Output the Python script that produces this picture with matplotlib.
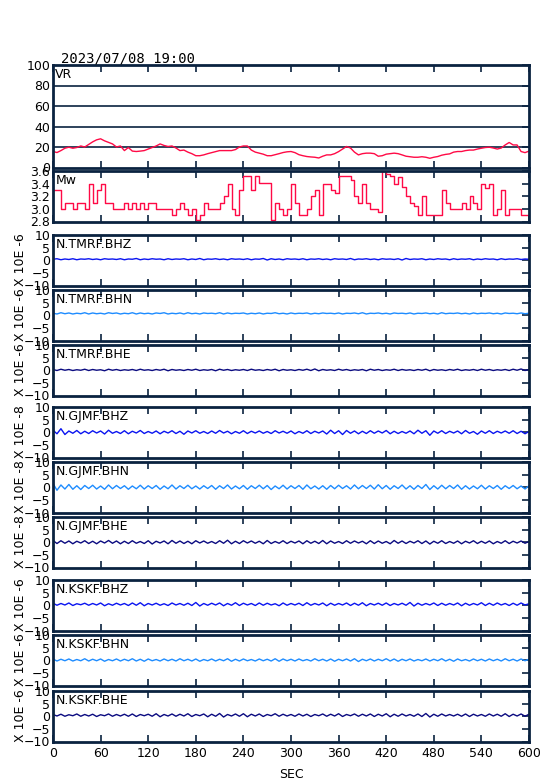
import numpy as np
import matplotlib.pyplot as plt

# --- Data ---
title = "2023/07/08 19:00"
t = np.arange(0, 601, 5)  # seconds, 5 s sampling

vr = [15.6, 14.6, 16.5, 18.8, 19.8, 18.8, 19.5, 21, 20, 22.5,
      25, 27, 28, 26, 24.5, 23, 20, 21, 16.5, 19.5,
      16, 15.6, 16, 16.5, 18, 19.5, 21, 23, 21.5, 20.5,
      21, 19, 16.5, 17, 15, 13.5, 11.5, 11.5, 12.3, 13.5,
      14.5, 15.5, 16.5, 16.5, 16.5, 16.5, 17.5, 20, 21, 21,
      17, 15, 14, 13, 11.5, 11.5, 12.5, 13.5, 14.6, 15.3,
      15.6, 14.5, 12.5, 11.5, 10.7, 10.3, 10, 9.3, 11, 12.3,
      12.3, 13.5, 15.5, 18, 20.5, 19, 15, 12.3, 13.5, 14,
      14, 13.5, 11, 11.5, 13, 13.5, 14, 13.5, 12.3, 11,
      10.5, 10, 10, 10.5, 10, 9, 10, 10.7, 12, 12.8,
      13.3, 15, 15.6, 15.6, 16.5, 17, 17, 18, 18.8, 19.5,
      19.8, 19, 18, 19, 22, 24.4, 22, 22, 15.6, 14.5,
      16]

mw = [3.3, 3.3, 3.0, 3.1, 3.1, 3.0, 3.1, 3.1, 3.0, 3.4,
      3.1, 3.3, 3.4, 3.1, 3.1, 3.0, 3.0, 3.0, 3.1, 3.0,
      3.1, 3.0, 3.1, 3.0, 3.1, 3.1, 3.0, 3.0, 3.0, 3.0,
      2.9, 3.0, 3.1, 3.0, 2.9, 3.0, 2.82, 2.9, 3.1, 3.0,
      3.0, 3.0, 3.1, 3.2, 3.4, 3.0, 2.9, 3.3, 3.52, 3.52,
      3.3, 3.52, 3.41, 3.41, 3.41, 2.82, 3.1, 3.0, 2.9, 3.0,
      3.4, 3.1, 2.9, 2.9, 3.0, 3.2, 3.3, 2.9, 3.4, 3.4,
      3.3, 3.25, 3.52, 3.52, 3.52, 3.45, 3.2, 3.1, 3.4, 3.1,
      3.0, 3.0, 2.95, 3.6, 3.55, 3.52, 3.4, 3.5, 3.35, 3.2,
      3.1, 3.05, 2.9, 3.2, 2.9, 2.9, 2.9, 2.9, 3.3, 3.1,
      3.0, 3.0, 3.0, 3.1, 3.0, 3.2, 3.1, 3.0, 3.4, 3.33,
      3.4, 2.9, 3.0, 3.3, 2.9, 3.0, 3.0, 3.0, 2.9, 2.9,
      2.9]

tmrf_bhz = [0.4, 0.6, 0.2, 0.5, 0.3, 0.6, 0.2, 0.5, 0.4, 0.6,
            0.3, 0.5, 0.2, 0.6, 0.4, 0.5, 0.3, 0.6, 0.2, 0.5,
            0.4, 0.7, 0.2, 0.5, 0.3, 0.6, 0.4, 0.5, 0.2, 0.6,
            0.3, 0.5, 0.4, 0.6, 0.2, 0.5, 0.3, 0.7, 0.2, 0.5,
            0.4, 0.6, 0.3, 0.5, 0.2, 0.6, 0.4, 0.5, 0.3, 0.6,
            0.2, 0.5, 0.4, 0.7, 0.1, 0.6, 0.3, 0.5, 0.2, 0.6,
            0.4, 0.5, 0.3, 0.6, 0.2, 0.5, 0.4, 0.6, 0.3, 0.5,
            0.2, 0.6, 0.4, 0.5, 0.3, 0.7, 0.2, 0.5, 0.4, 0.6,
            0.3, 0.5, 0.2, 0.6, 0.4, 0.5, 0.3, 0.6, 0.1, 0.7,
            0.3, 0.5, 0.4, 0.6, 0.2, 0.5, 0.3, 0.6, 0.4, 0.5,
            0.2, 0.6, 0.3, 0.5, 0.4, 0.6, 0.2, 0.5, 0.3, 0.6,
            0.4, 0.5, 0.2, 0.6, 0.3, 0.5, 0.4, 0.6, 0.3, 0.5,
            0.4]
tmrf_bhn = [0.8, 0.5, 1.0, 0.6, 0.9, 0.5, 0.8, 0.6, 1.0, 0.5,
            0.9, 0.6, 0.8, 0.5, 1.0, 0.7, 0.9, 0.5, 0.8, 0.6,
            1.0, 0.5, 0.9, 0.6, 0.8, 0.5, 0.9, 0.7, 1.0, 0.5,
            0.8, 0.6, 0.9, 0.5, 1.0, 0.6, 0.8, 0.5, 0.9, 0.7,
            0.8, 0.6, 1.0, 0.5, 0.9, 0.6, 0.8, 0.7, 0.9, 0.5,
            0.8, 0.6, 0.9, 0.5, 0.8, 0.7, 1.0, 0.6, 0.8, 0.5,
            0.9, 0.6, 0.8, 0.7, 0.9, 0.5, 0.8, 0.6, 0.9, 0.7,
            0.8, 0.6, 0.9, 0.5, 0.8, 0.7, 0.9, 0.6, 1.0, 0.5,
            0.8, 0.7, 0.9, 0.6, 0.8, 0.5, 0.9, 0.7, 0.8, 0.6,
            0.9, 0.5, 0.8, 0.7, 0.9, 0.6, 0.8, 0.5, 1.0, 0.6,
            0.8, 0.7, 0.9, 0.6, 0.8, 0.5, 0.9, 0.6, 0.8, 0.7,
            0.9, 0.6, 0.8, 0.5, 0.9, 0.7, 0.8, 0.6, 0.9, 0.6,
            0.8]
tmrf_bhe = [0.3, -0.1, 0.4, 0.0, 0.3, -0.1, 0.2, 0.0, 0.4, -0.1,
            0.3, 0.0, 0.2, -0.2, 0.4, 0.0, 0.3, -0.1, 0.2, 0.0,
            0.3, -0.1, 0.4, 0.0, 0.2, -0.1, 0.3, 0.0, 0.4, -0.2,
            0.3, 0.0, 0.2, -0.1, 0.3, 0.0, 0.4, -0.1, 0.2, 0.0,
            0.3, -0.2, 0.4, 0.0, 0.3, -0.1, 0.2, 0.0, 0.3, -0.1,
            0.4, 0.0, 0.2, -0.1, 0.3, 0.0, 0.4, -0.2, 0.3, 0.0,
            0.2, -0.1, 0.3, 0.0, 0.4, -0.1, 0.5, -0.2, 0.3, 0.0,
            0.2, -0.1, 0.4, 0.0, 0.3, -0.1, 0.2, 0.0, 0.3, -0.2,
            0.4, 0.0, 0.3, -0.1, 0.2, 0.0, 0.4, -0.1, 0.3, 0.0,
            0.2, -0.1, 0.3, 0.0, 0.4, -0.2, 0.3, 0.0, 0.2, -0.1,
            0.3, 0.0, 0.4, -0.1, 0.2, 0.0, 0.3, -0.1, 0.4, 0.0,
            0.3, -0.1, 0.2, 0.0, 0.3, -0.1, 0.4, 0.0, 0.5, -0.1,
            0.3]
gjmf_bhz = [0.8, -0.6, 1.4, -0.9, 0.5, -0.4, 0.7, -0.6, 0.4, -0.5,
            0.6, -0.3, 0.5, -0.7, 0.8, -0.4, 0.3, -0.5, 0.6, -0.6,
            0.4, -0.3, 0.7, -0.5, 0.3, -0.4, 0.5, -0.6, 0.4, -0.3,
            0.6, -0.5, 0.4, -0.8, 0.5, -0.3, 0.6, -0.4, 0.3, -0.5,
            0.5, -0.4, 0.7, -0.3, 0.4, -0.6, 0.3, -0.4, 0.6, -0.5,
            0.4, -0.3, 0.5, -0.4, 0.3, -0.5, 0.6, -0.3, 0.4, -0.4,
            0.5, -0.6, 0.3, -0.4, 0.6, -0.5, 0.4, -0.3, 0.5, -0.7,
            0.8, -0.5, 0.6, -0.9, 0.7, -0.4, 0.5, -0.6, 0.4, -0.5,
            0.6, -0.4, 0.5, -0.3, 0.7, -0.6, 0.4, -0.5, 0.3, -0.4,
            0.5, -0.6, 0.8, -0.4, 0.6, -1.2, 0.5, -0.4, 0.6, -0.5,
            0.4, -0.3, 0.5, -0.6, 0.7, -0.4, 0.3, -0.8, 0.5, -0.4,
            0.6, -0.5, 0.4, -0.3, 0.5, -0.4, 0.6, -0.5, 0.4, -0.6,
            0.3]
gjmf_bhn = [1.5, -1.2, 0.9, -0.7, 1.1, -0.8, 0.6, -0.9, 0.7, -0.5,
            0.8, -0.7, 0.5, -0.8, 0.9, -0.6, 0.7, -0.5, 0.6, -0.8,
            0.5, -0.6, 0.8, -0.7, 0.6, -0.5, 0.7, -0.8, 0.5, -0.6,
            0.9, -0.7, 0.6, -0.5, 0.8, -0.6, 0.5, -0.7, 0.6, -0.5,
            0.7, -0.8, 0.6, -0.5, 0.9, -0.7, 0.5, -0.6, 0.7, -0.8,
            0.6, -0.5, 0.8, -0.6, 0.7, -0.9, 0.5, -0.6, 0.8, -0.7,
            0.6, -0.5, 0.7, -0.8, 0.9, -0.6, 0.5, -0.7, 0.6, -0.8,
            0.7, -0.6, 0.8, -0.5, 0.6, -0.7, 0.9, -0.6, 0.7, -0.5,
            0.8, -0.7, 1.0, -0.6, 0.7, -0.8, 0.6, -0.5, 0.9, -0.7,
            0.6, -0.8, 0.7, -0.5, 1.1, -0.9, 0.6, -0.7, 0.8, -0.6,
            0.7, -0.5, 0.9, -0.8, 0.6, -0.7, 0.5, -0.6, 0.8, -0.7,
            0.6, -0.5, 0.7, -0.8, 0.6, -0.5, 0.7, -0.6, 0.5, -0.7,
            0.6]
gjmf_bhe = [0.7, -0.5, 0.6, -0.4, 0.5, -0.6, 0.4, -0.3, 0.6, -0.5,
            0.4, -0.6, 0.5, -0.3, 0.7, -0.4, 0.5, -0.6, 0.4, -0.5,
            0.6, -0.4, 0.3, -0.5, 0.6, -0.7, 0.4, -0.3, 0.5, -0.6,
            0.7, -0.4, 0.5, -0.5, 0.4, -0.6, 0.6, -0.3, 0.5, -0.4,
            0.3, -0.5, 0.6, -0.4, 0.8, -0.6, 0.4, -0.5, 0.6, -0.3,
            0.5, -0.4, 0.4, -0.6, 0.7, -0.5, 0.3, -0.4, 0.6, -0.5,
            0.4, -0.3, 0.5, -0.6, 0.6, -0.4, 0.4, -0.5, 0.7, -0.6,
            0.5, -0.4, 0.3, -0.5, 0.6, -0.4, 0.5, -0.3, 0.4, -0.6,
            0.6, -0.5, 0.5, -0.4, 0.3, -0.6, 0.7, -0.4, 0.5, -0.5,
            0.4, -0.3, 0.6, -0.5, 0.5, -0.7, 0.4, -0.4, 0.6, -0.5,
            0.3, -0.4, 0.5, -0.6, 0.4, -0.3, 0.6, -0.5, 0.4, -0.4,
            0.5, -0.6, 0.3, -0.4, 0.6, -0.5, 0.4, -0.3, 0.5, -0.4,
            0.3]
kskf_bhz = [0.8, 0.0, 0.7, 0.1, 0.9, -0.1, 0.6, 0.2, 0.8, 0.0,
            0.7, 0.1, 0.9, -0.2, 0.6, 0.0, 0.8, 0.1, 0.7, -0.1,
            0.9, 0.0, 1.0, -0.2, 0.7, 0.1, 0.8, 0.0, 0.6, -0.1,
            0.9, 0.1, 0.7, 0.0, 0.8, -0.1, 1.1, -0.3, 0.7, 0.0,
            0.8, 0.1, 0.9, -0.2, 0.7, 0.0, 1.0, -0.1, 0.8, 0.1,
            0.7, -0.1, 0.9, 0.0, 0.8, 0.1, 0.6, -0.2, 0.9, 0.0,
            0.7, 0.1, 0.8, -0.1, 1.0, 0.0, 0.7, 0.1, 0.9, -0.2,
            0.8, 0.0, 0.7, 0.1, 0.9, -0.1, 0.8, 0.0, 1.0, -0.2,
            0.7, 0.1, 0.8, 0.0, 0.9, -0.1, 0.7, 0.1, 0.8, 0.0,
            1.1, -0.3, 0.8, 0.0, 0.7, 0.1, 0.9, -0.1, 0.8, 0.0,
            0.7, 0.1, 0.9, -0.2, 0.8, 0.0, 0.7, 0.1, 1.0, -0.1,
            0.8, 0.0, 0.9, 0.1, 0.7, -0.1, 0.8, 0.0, 0.9, 0.1,
            0.6]
kskf_bhn = [0.5, -0.3, 0.4, -0.2, 0.5, -0.3, 0.3, -0.2, 0.6, -0.3,
            0.4, -0.2, 0.5, -0.4, 0.3, -0.2, 0.5, -0.3, 0.4, -0.2,
            0.6, -0.3, 0.4, -0.4, 0.5, -0.2, 0.3, -0.3, 0.5, -0.2,
            0.4, -0.3, 0.6, -0.2, 0.4, -0.3, 0.5, -0.4, 0.3, -0.2,
            0.5, -0.3, 0.4, -0.2, 0.6, -0.4, 0.4, -0.3, 0.5, -0.2,
            0.3, -0.3, 0.5, -0.2, 0.4, -0.3, 0.6, -0.4, 0.5, -0.2,
            0.4, -0.3, 0.5, -0.2, 0.3, -0.3, 0.6, -0.2, 0.4, -0.3,
            0.5, -0.4, 0.4, -0.2, 0.5, -0.3, 0.6, -0.5, 0.4, -0.2,
            0.5, -0.3, 0.4, -0.2, 0.6, -0.3, 0.5, -0.4, 0.4, -0.2,
            0.5, -0.3, 0.3, -0.2, 0.5, -0.3, 0.4, -0.2, 0.6, -0.3,
            0.4, -0.4, 0.5, -0.2, 0.3, -0.3, 0.5, -0.2, 0.4, -0.3,
            0.5, -0.2, 0.4, -0.3, 0.6, -0.2, 0.4, -0.3, 0.5, -0.2,
            0.4]
kskf_bhe = [0.7, 0.1, 0.8, 0.0, 0.6, 0.2, 0.9, 0.0, 0.7, 0.1,
            0.8, -0.1, 0.6, 0.2, 0.9, 0.0, 0.7, 0.1, 0.8, 0.0,
            0.9, -0.1, 0.7, 0.2, 0.8, 0.0, 1.0, -0.2, 0.7, 0.1,
            0.9, 0.0, 0.8, 0.1, 1.0, -0.1, 0.7, 0.2, 0.9, -0.2,
            0.8, 0.0, 1.1, -0.3, 0.7, 0.1, 0.9, 0.0, 1.0, -0.2,
            0.8, 0.1, 0.9, -0.1, 0.7, 0.2, 1.0, 0.0, 0.8, 0.1,
            0.7, 0.0, 0.9, 0.1, 0.8, -0.1, 0.7, 0.2, 0.9, 0.0,
            0.8, 0.1, 1.0, -0.1, 0.7, 0.2, 0.9, 0.0, 0.8, 0.1,
            0.9, -0.1, 0.8, 0.1, 1.0, -0.2, 0.8, 0.0, 0.9, 0.1,
            0.7, 0.0, 0.9, -0.1, 1.1, -0.3, 0.8, 0.0, 0.9, 0.1,
            0.7, 0.1, 0.8, 0.0, 0.9, -0.1, 0.8, 0.1, 0.7, 0.0,
            0.9, 0.1, 0.8, 0.0, 1.0, -0.1, 0.8, 0.1, 0.9, 0.0,
            0.8]

stations = ["N.TMRF.BHZ", "N.TMRF.BHN", "N.TMRF.BHE",
            "N.GJMF.BHZ", "N.GJMF.BHN", "N.GJMF.BHE",
            "N.KSKF.BHZ", "N.KSKF.BHN", "N.KSKF.BHE"]
traces = [tmrf_bhz, tmrf_bhn, tmrf_bhe, gjmf_bhz, gjmf_bhn, gjmf_bhe,
          kskf_bhz, kskf_bhn, kskf_bhe]
units = ["X 10E -6"] * 3 + ["X 10E -8"] * 3 + ["X 10E -6"] * 3

xticks = np.arange(0, 601, 60)

# --- Styles ---
navy = "#0a2240"
red = "#ff0a46"
trace_colors = ["#0a14f0", "#1e8cff", "#0a0a80"] * 3
font = "DejaVu Sans"
fs = 9

W_PX, H_PX = 554, 781
left, width = 53 / W_PX, 476 / W_PX


def make_ax(top, h):
    ax = fig.add_axes([left, 1 - (top + h) / H_PX, width, h / H_PX])
    for s in ax.spines.values():
        s.set_color(navy)
        s.set_linewidth(2.0)
    ax.set_xlim(0, 600)
    ax.set_xticks(xticks)
    ax.tick_params(axis="x", direction="in", top=True, bottom=True,
                   length=5, width=1.2, color=navy, labelbottom=False)
    ax.tick_params(axis="y", direction="in", left=False, right=True,
                   length=5, width=1.2, color=navy, labelleft=True,
                   pad=2, labelsize=fs)
    for lab in ax.get_yticklabels():
        lab.set_fontfamily(font)
    return ax


fig = plt.figure(figsize=(W_PX / 100, H_PX / 100), dpi=100)

# VR panel
ax = make_ax(65, 102.5)
ax.set_ylim(0, 100)
ax.set_yticks([0, 20, 40, 60, 80, 100])
for g in [20, 40, 60, 80]:
    ax.axhline(g, color=navy, lw=1.2, zorder=1)
ax.plot(t, vr, color=red, lw=1.0, zorder=2)
ax.text(0.005, 0.97, "VR", transform=ax.transAxes, va="top", ha="left",
        fontsize=fs, family=font)
fig.text(left + 0.015, 1 - 58 / H_PX, title, fontsize=10,
         family="DejaVu Sans Mono", va="center", ha="left")

# Mw panel
ax = make_ax(171, 50.5)
ax.set_ylim(2.8, 3.6)
ax.set_yticks([2.8, 3.0, 3.2, 3.4, 3.6])
ax.set_yticklabels(["2.8", "3.0", "3.2", "3.4", "3.6"])
ax.plot(t, mw, color=red, lw=1.0, drawstyle="steps-post")
ax.text(0.005, 0.95, "Mw", transform=ax.transAxes, va="top", ha="left",
        fontsize=fs, family=font)

# waveform panels
tops = [235, 290, 345, 407, 462, 517, 580, 635, 691]
for i, (top, name, tr, unit) in enumerate(zip(tops, stations, traces, units)):
    ax = make_ax(top, 50.5)
    ax.set_ylim(-10, 10)
    ax.set_yticks([-10, -5, 0, 5, 10])
    ax.plot(t, tr, color=trace_colors[i], lw=1.0)
    ax.text(0.005, 0.95, name, transform=ax.transAxes, va="top", ha="left",
            fontsize=fs, family=font)
    yc = 1 - (top + 25) / H_PX
    fig.text(20 / W_PX, yc, unit, rotation=90, va="center", ha="center",
             fontsize=fs, family=font)
    if i == len(tops) - 1:
        ax.tick_params(axis="x", labelbottom=True, labelsize=fs, pad=4)
        for lab in ax.get_xticklabels():
            lab.set_fontfamily(font)
        ax.set_xlabel("SEC", fontsize=fs, family=font, labelpad=6)

fig.savefig("out.png", dpi=100)
